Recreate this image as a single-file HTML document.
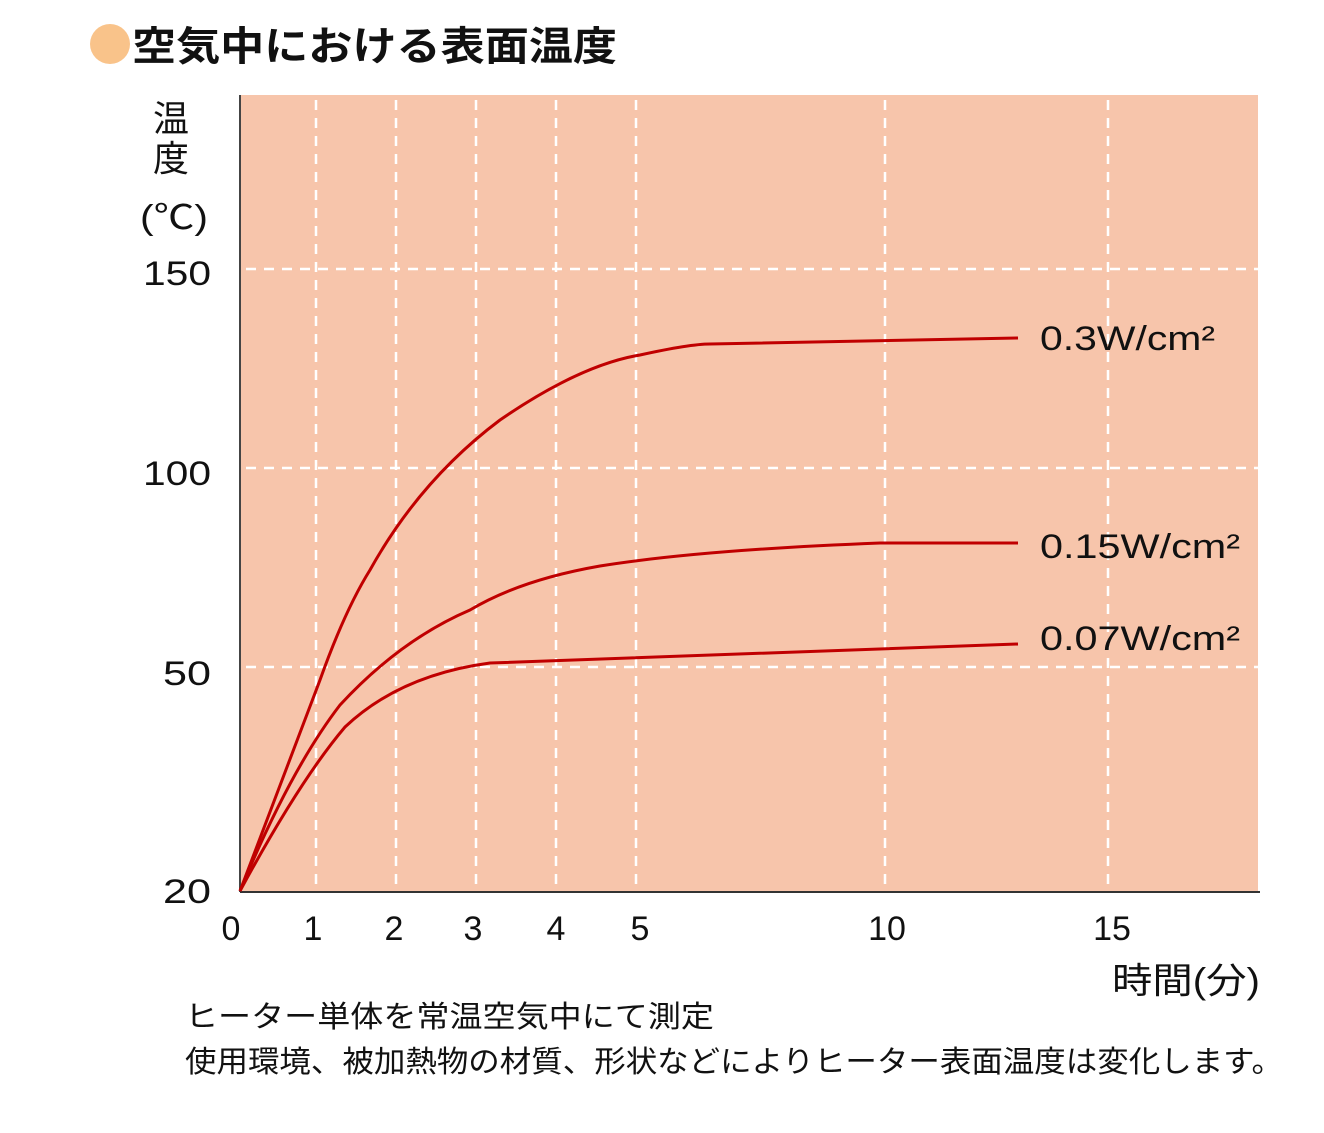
<!DOCTYPE html>
<html><head><meta charset="utf-8"><style>
body{margin:0;background:#fff;width:1324px;height:1128px;overflow:hidden}
</style></head><body>
<svg width="1324" height="1128" xmlns="http://www.w3.org/2000/svg" style="font-family:'Liberation Sans','Noto Sans CJK JP',sans-serif">
<circle cx="110" cy="44" r="20" fill="#F9C38A"/>
<text x="132" y="60" font-size="40" font-weight="bold" fill="#111" textLength="485" lengthAdjust="spacingAndGlyphs">空気中における表面温度</text>
<rect x="240" y="95" width="1018" height="797" fill="#F7C5AB"/>
<g stroke="#fff" stroke-width="2.5" stroke-dasharray="10,8" fill="none">
<line x1="246" y1="269" x2="1258" y2="269"/>
<line x1="246" y1="468" x2="1258" y2="468"/>
<line x1="246" y1="667" x2="1258" y2="667"/>
<line x1="316" y1="100" x2="316" y2="892"/>
<line x1="396" y1="100" x2="396" y2="892"/>
<line x1="476" y1="100" x2="476" y2="892"/>
<line x1="556" y1="100" x2="556" y2="892"/>
<line x1="636" y1="100" x2="636" y2="892"/>
<line x1="885" y1="100" x2="885" y2="892"/>
<line x1="1108" y1="100" x2="1108" y2="892"/>
</g>
<line x1="240" y1="95" x2="240" y2="892" stroke="#444" stroke-width="2"/>
<line x1="240" y1="892" x2="1260" y2="892" stroke="#333" stroke-width="2"/>
<g stroke="#C00000" stroke-width="3" fill="none">
<path d="M240,891 L320,680 Q345,610 370,570 Q420,480 500,420 Q580,365 640,355 Q690,344 710,344 L1018,338"/>
<path d="M240,891 Q290,770 340,705 Q400,640 470,610 Q520,580 600,566 Q700,550 880,543 L1018,543"/>
<path d="M240,891 Q300,780 345,727 Q400,675 490,663 L1018,644"/>
</g>
<g font-size="34" fill="#111">
<text x="1040" y="350" textLength="175" lengthAdjust="spacingAndGlyphs">0.3W/cm²</text>
<text x="1040" y="558" textLength="200" lengthAdjust="spacingAndGlyphs">0.15W/cm²</text>
<text x="1040" y="650" textLength="200" lengthAdjust="spacingAndGlyphs">0.07W/cm²</text>
</g>
<g font-size="34" fill="#111">
<text x="143" y="285" textLength="68" lengthAdjust="spacingAndGlyphs">150</text>
<text x="143" y="485" textLength="68" lengthAdjust="spacingAndGlyphs">100</text>
<text x="163" y="685" textLength="48" lengthAdjust="spacingAndGlyphs">50</text>
<text x="163" y="903" textLength="48" lengthAdjust="spacingAndGlyphs">20</text>
</g>
<g font-size="34" fill="#111" text-anchor="middle">
<text x="231" y="940">0</text>
<text x="313" y="940">1</text>
<text x="394" y="940">2</text>
<text x="473" y="940">3</text>
<text x="556" y="940">4</text>
<text x="640" y="940">5</text>
<text x="887" y="940">10</text>
<text x="1112" y="940">15</text>
</g>
<g font-size="36" fill="#111">
<text x="153" y="131">温</text>
<text x="153" y="171">度</text>
<text x="140" y="229" font-size="34" textLength="68" lengthAdjust="spacingAndGlyphs">(℃)</text>
<text x="1112" y="993" textLength="148" lengthAdjust="spacingAndGlyphs">時間(分)</text>
</g>
<g font-size="30" fill="#111">
<text x="185" y="1027" textLength="529" lengthAdjust="spacingAndGlyphs">ヒーター単体を常温空気中にて測定</text>
<text x="185" y="1072" textLength="1098" lengthAdjust="spacingAndGlyphs">使用環境、被加熱物の材質、形状などによりヒーター表面温度は変化します。</text>
</g>
</svg>
</body></html>
